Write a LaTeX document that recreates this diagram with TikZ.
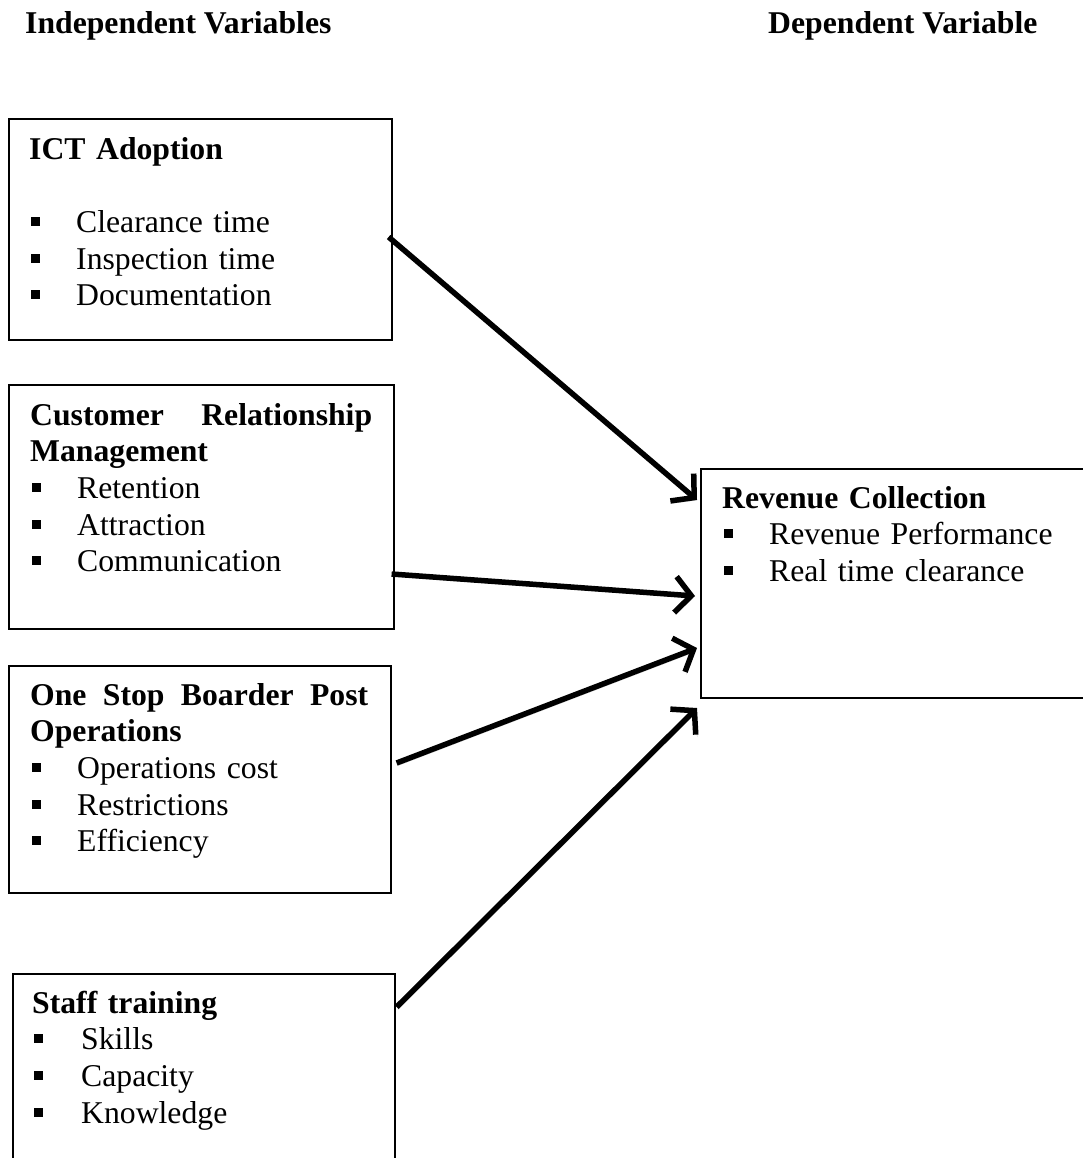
\documentclass[tikz,border=0pt]{standalone}
\usepackage{fontspec}
\setmainfont{Liberation Serif}
\usetikzlibrary{arrows.meta}
\tikzset{
  varbox/.style={draw, line width=1.6pt, anchor=north west, inner sep=0pt},
  vartext/.style={anchor=north west, inner sep=0pt, align=left, text width=345pt,
    font=\fontsize{31.7}{36.6}\selectfont},
  headtext/.style={anchor=base west, inner sep=0pt, font=\fontsize{31.7}{36.6}\selectfont\bfseries},
  flowarrow/.style={-{Straight Barb[length=16pt,width=36pt]}, line width=5.5pt,
    preaction={draw=black!22, transform canvas={shift={(1.5pt,-2.5pt)}}}}
}
% square bullet used in every list
\newcommand{\sqbullet}{\hspace*{2pt}\rule[6.5pt]{9pt}{9pt}\hspace*{36pt}}

\begin{document}
\begin{tikzpicture}[x=1pt, y=-1pt]
  \useasboundingbox (0,0) rectangle (1083,1158);

  % column headings
  \node[headtext] (indep) at (25,34) {Independent Variables};
  \node[headtext] (dep) at (768,34) {Dependent Variable};

  % boxes
  \node[varbox, minimum width=383pt, minimum height=221pt] (ict) at (8,118) {};
  \node[varbox, minimum width=385pt, minimum height=244pt] (crm) at (8,384) {};
  \node[varbox, minimum width=382pt, minimum height=227pt] (osbp) at (8,665) {};
  \node[varbox, minimum width=382pt, minimum height=220pt] (staff) at (12,973) {};
  \node[varbox, minimum width=420pt, minimum height=229pt] (rev) at (700,468) {};

  % box contents
  \node[vartext] (icttext) at ([shift={(21,15.4)}]ict.north west)
    {\strut\textbf{ICT Adoption}\\[36.6pt]
     \sqbullet Clearance time\\
     \sqbullet Inspection time\\
     \sqbullet Documentation};
  \node[vartext] (crmtext) at ([shift={(22,15.4)}]crm.north west)
    {\strut\makebox[342pt][l]{\textbf{Customer\hfill Relationship}}\\
     \textbf{Management}\\
     \sqbullet Retention\\
     \sqbullet Attraction\\
     \sqbullet Communication};
  \node[vartext] (osbptext) at ([shift={(22,14.4)}]osbp.north west)
    {\strut\makebox[338pt][l]{\textbf{One\hfill Stop\hfill Boarder\hfill Post}}\\
     \textbf{Operations}\\
     \sqbullet Operations cost\\
     \sqbullet Restrictions\\
     \sqbullet Efficiency};
  \node[vartext] (stafftext) at ([shift={(20,14.4)}]staff.north west)
    {\strut\textbf{Staff training}\\
     \sqbullet\hspace*{2pt}Skills\\
     \sqbullet\hspace*{2pt}Capacity\\
     \sqbullet\hspace*{2pt}Knowledge};
  \node[vartext] (revtext) at ([shift={(22,14.4)}]rev.north west)
    {\strut\textbf{Revenue Collection}\\
     \sqbullet Revenue Performance\\
     \sqbullet Real time clearance};

  % links to the dependent variable
  \draw[flowarrow] ([shift={(-4,119)}]ict.north east) -- ([shift={(-3,32)}]rev.north west);
  \draw[flowarrow] ([shift={(-3,190)}]crm.north east) -- ([shift={(-5,128)}]rev.north west);
  \draw[flowarrow] ([shift={(5,98)}]osbp.north east) -- ([shift={(-3,180)}]rev.north west);
  \draw[flowarrow] ([shift={(1,34)}]staff.north east) -- ([shift={(-3,240)}]rev.north west);
\end{tikzpicture}
\end{document}
